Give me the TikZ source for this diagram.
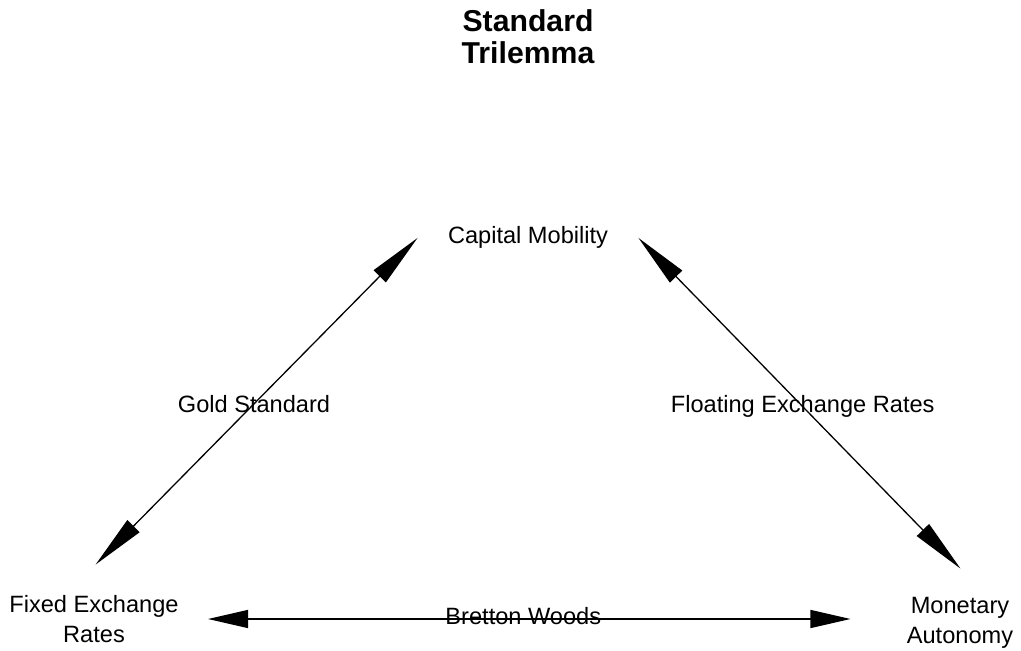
\documentclass[tikz,border=0pt]{standalone}
\usepackage{fontspec}
\setmainfont{Liberation Sans}
\usetikzlibrary{arrows.meta}
\definecolor{ink}{HTML}{000000}
\tikzset{
    title/.style={font=\fontsize{15.1}{16}\selectfont\bfseries, text=ink,
                  align=center},
    corner/.style={font=\fontsize{11.8}{15}\selectfont, text=ink,
                   align=center, inner sep=2pt},
    apex/.style={font=\fontsize{11.8}{15}\selectfont, text=ink,
                 inner xsep=15pt, inner ysep=2pt},
    regime/.style={font=\fontsize{11.8}{15}\selectfont, text=ink},
    diagonal/.style={ink, line width=0.65pt,
                     {Triangle[length=27pt,width=8.5pt]}-{Triangle[length=27pt,width=8.5pt]}},
    flat/.style={ink, line width=0.65pt,
                 {Triangle[length=20pt,width=9pt]}-{Triangle[length=20pt,width=9pt]}},
}

\begin{document}
\begin{tikzpicture}[x=0.5pt, y=-0.5pt]
\useasboundingbox (0,0) rectangle (1021,651);

% ---------------------------------------------------------------------------
% Title and the three policy goals
% ---------------------------------------------------------------------------
\node[title, anchor=base] (title) at (528,64) {Standard\\Trilemma};

\node[apex, anchor=base] (capital) at (528,244) {Capital Mobility};
\node[corner] (fixed) at (94,619) {Fixed Exchange\\Rates};
\node[corner] (monetary) at (960,623) {Monetary\\Autonomy};

% ---------------------------------------------------------------------------
% Regimes: each picks two of the three goals
% ---------------------------------------------------------------------------
\draw[diagonal, shorten <=18.5pt] (fixed.131) -- (capital.west)
    node[regime, pos=.53] (gold) {Gold Standard};
\draw[diagonal, shorten >=17pt] (capital.east) -- (monetary.51)
    node[regime, pos=.475] (floating) {Floating Exchange Rates};
\draw[flat, shorten <=12.5pt, shorten >=26pt]
    (fixed.east) -- (fixed.east -| monetary.west)
    node[regime, pos=.473, anchor=mid] (bretton) {Bretton Woods};

\end{tikzpicture}
\end{document}
